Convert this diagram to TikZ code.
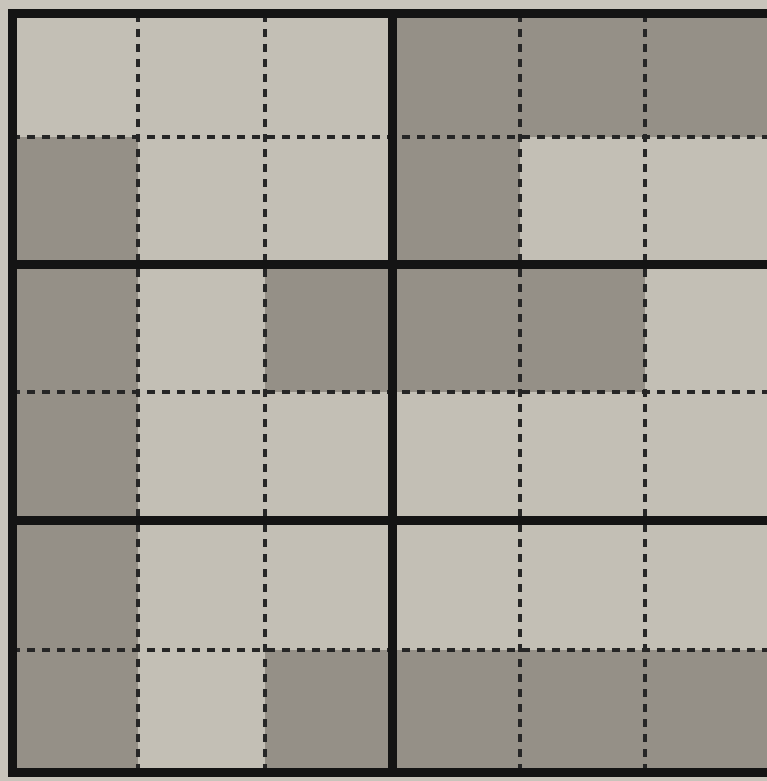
\documentclass[tikz,border=0pt]{standalone}
\definecolor{paper}{RGB}{200,196,187}
\definecolor{lightcell}{RGB}{195,191,181}
\definecolor{darkcell}{RGB}{149,144,135}
\tikzset{
  thickline/.style={line width=9pt, black!92, line cap=rect},
  dashline/.style={line width=3.5pt, black!85, dash pattern=on 8pt off 7pt},
}
\begin{document}
\begin{tikzpicture}[x=1pt,y=-1pt]
\useasboundingbox (0,0) rectangle (767,781);
\fill[paper] (0,0) rectangle (767,781);
\fill[lightcell] (12,14) rectangle (767,772);
% dark cells: (col,row)
\foreach \c/\r in {3/0,4/0,5/0, 0/1,3/1, 0/2,2/2,3/2,4/2, 0/3, 0/4, 0/5,2/5,3/5,4/5,5/5}{
  \pgfmathsetmacro{\xa}{{12,138,265,392,520,645,767}[\c]}
  \pgfmathsetmacro{\xb}{{12,138,265,392,520,645,767}[\c+1]}
  \pgfmathsetmacro{\ya}{{14,137,264,392,520,650,772}[\r]}
  \pgfmathsetmacro{\yb}{{14,137,264,392,520,650,772}[\r+1]}
  \fill[darkcell] (\xa,\ya) rectangle (\xb,\yb);
}
% dashed lines
\foreach \x in {138,265,520,645}{\draw[dashline] (\x,14) -- (\x,772);}
\foreach \y in {137,392,650}{\draw[dashline] (12,\y) -- (767,\y);}
% thick lines
\draw[thickline] (767,14) -- (12,14) -- (12,772) -- (767,772);
\draw[thickline] (392,14) -- (392,772);
\draw[thickline] (12,264) -- (767,264);
\draw[thickline] (12,520) -- (767,520);
\end{tikzpicture}
\end{document}
